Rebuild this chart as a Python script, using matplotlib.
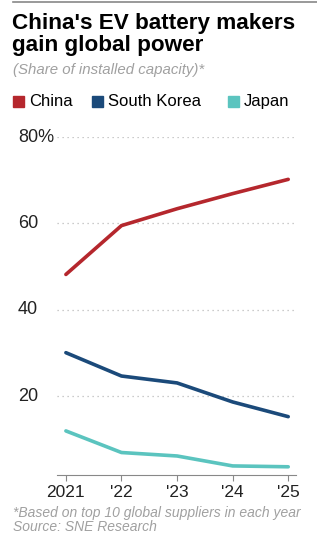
import matplotlib.pyplot as plt

years = [2021, 2022, 2023, 2024, 2025]
year_labels = ['2021', "'22", "'23", "'24", "'25"]
china = [48.2, 59.5, 63.4, 66.9, 70.2]
korea = [30.1, 24.7, 23.1, 18.7, 15.3]
japan = [12.0, 7.0, 6.2, 3.9, 3.7]

names = ['China', 'South Korea', 'Japan']
colors = ['#b5272d', '#1b4a7a', '#5bc4bf']

plt.rcParams['font.family'] = ['Liberation Sans', 'DejaVu Sans']

W, H = 317, 536
fig = plt.figure(figsize=(W / 100, H / 100), dpi=100)

def fy(px):
    return 1 - px / H

# top rule
fig.add_artist(plt.Line2D([13 / W, 1], [fy(1.5), fy(1.5)], color='#888888', lw=1.2))

fig.text(12 / W, fy(29), "China's EV battery makers", fontsize=16.2,
         fontweight='bold', va='baseline', ha='left')
fig.text(12 / W, fy(51), "gain global power", fontsize=16.2,
         fontweight='bold', va='baseline', ha='left')
fig.text(13 / W, fy(74), '(Share of installed capacity)*', fontsize=10.8,
         style='italic', color='#a0a0a0', va='baseline', ha='left')

# legend
lx = [13, 92, 228]
for x, n, c in zip(lx, names, colors):
    fig.patches.append(plt.Rectangle((x / W, fy(107)), 11 / W, 11 / H,
                                     transform=fig.transFigure, color=c))
    fig.text((x + 16) / W, fy(101.5), n, fontsize=12, va='center', ha='left')

ax = fig.add_axes([57 / W, fy(475), (296 - 57) / W, (475 - 137) / H])
for vals, c in zip([china, korea, japan], colors):
    ax.plot(years, vals, color=c, lw=2.6, solid_capstyle='round')

ax.set_ylim(1.8, 80)
ax.set_xlim(2020.84, 2025.14)
ax.set_yticks([20, 40, 60, 80])
ax.set_yticklabels([])
for v in [20, 40, 60, 80]:
    ax.axhline(v, color='#bbbbbb', lw=0.9, ls=(0, (1, 3)), zorder=0)
    lab = '80%' if v == 80 else str(v)
    ax.text(-39 / (296 - 57), v, lab, transform=ax.get_yaxis_transform(),
            fontsize=13, va='center', ha='left', color='#222222')
ax.tick_params(axis='y', length=0)
ax.set_xticks(years)
ax.set_xticklabels(year_labels, fontsize=12.5, color='#222222')
ax.tick_params(axis='x', length=4, color='#888888', pad=3)
for s in ['top', 'right', 'left']:
    ax.spines[s].set_visible(False)
ax.spines['bottom'].set_color('#888888')
ax.patch.set_alpha(0)

fig.text(13 / W, fy(517.5), '*Based on top 10 global suppliers in each year',
         fontsize=10, style='italic', color='#a0a0a0', va='baseline', ha='left')
fig.text(13 / W, fy(531), 'Source: SNE Research',
         fontsize=10, style='italic', color='#a0a0a0', va='baseline', ha='left')

fig.savefig('out.png', dpi=100)
